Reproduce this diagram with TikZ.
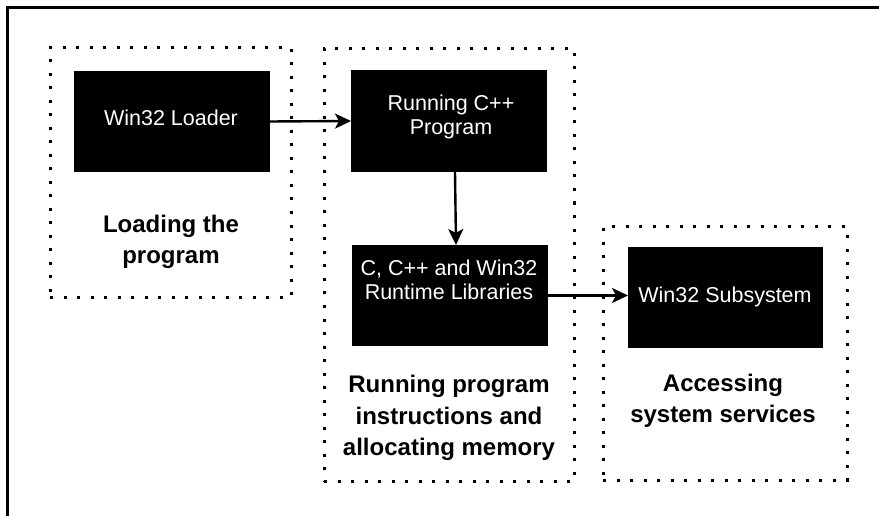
\documentclass[tikz,border=0pt]{standalone}
\usepackage{fontspec}
\setmainfont{Liberation Sans}
\usetikzlibrary{arrows.meta}
\begin{document}
\begin{tikzpicture}[x=1pt,y=-1pt,
  blackbox/.style={fill=black, draw=none, inner sep=0pt, outer sep=0pt},
  boxtext/.style={text=white, align=center, inner sep=0pt,
    font=\fontsize{21.5}{24}\selectfont},
  group/.style={draw=black, line width=3pt, dash pattern=on 3pt off 10.5pt,
    inner sep=0pt, outer sep=0pt},
  caption/.style={align=center, inner sep=0pt,
    font=\bfseries\fontsize{24}{31.5}\selectfont},
  flow/.style={line width=2.4pt, -{Stealth[length=16pt, width=15pt, inset=4pt]}}]
\useasboundingbox (0,0) rectangle (879,516);

% page frame (top and left edges)
\draw[line width=3pt] (7,516) -- (7,8) -- (879,8);

% dotted stage boxes
\node[group, minimum width=241pt, minimum height=249pt] (g1) at (170.5,172.5) {};
\node[group, minimum width=250pt, minimum height=432pt] (g2) at (449,265) {};
\node[group, minimum width=244pt, minimum height=253pt] (g3) at (725,353.5) {};

% black component boxes
\node[blackbox, minimum width=196pt, minimum height=101pt] (loader) at (172,121.5) {};
\node[blackbox, minimum width=196pt, minimum height=102pt] (cpp) at (449,121) {};
\node[blackbox, minimum width=196pt, minimum height=101pt] (lib) at (450,295.5) {};
\node[blackbox, minimum width=195pt, minimum height=101pt] (sub) at (725.5,297.5) {};

% component names
\node[boxtext] (loadertxt) at (171,118) {Win32 Loader};
\node[boxtext] (cpptxt) at (451,117) {Running C++\\Program};
\node[boxtext] (libtxt) at (449,280) {C, C++ and Win32\\Runtime Libraries};
\node[boxtext] (subtxt) at (725,297) {Win32 Subsystem};

% stage captions
\node[caption] (cap1) at (171,242) {Loading the\\program};
\node[caption] (cap2) at (449,418) {Running program\\instructions and\\allocating memory};
\node[caption] (cap3) at (723,401) {Accessing\\system services};

% control flow
\draw[flow] (loader.east) -- (cpp.west);
\draw[flow] ([xshift=6pt]cpp.south) -- ([xshift=6pt]lib.north);
\draw[flow] (lib.east) -- (lib.east -| sub.west);
\end{tikzpicture}
\end{document}
